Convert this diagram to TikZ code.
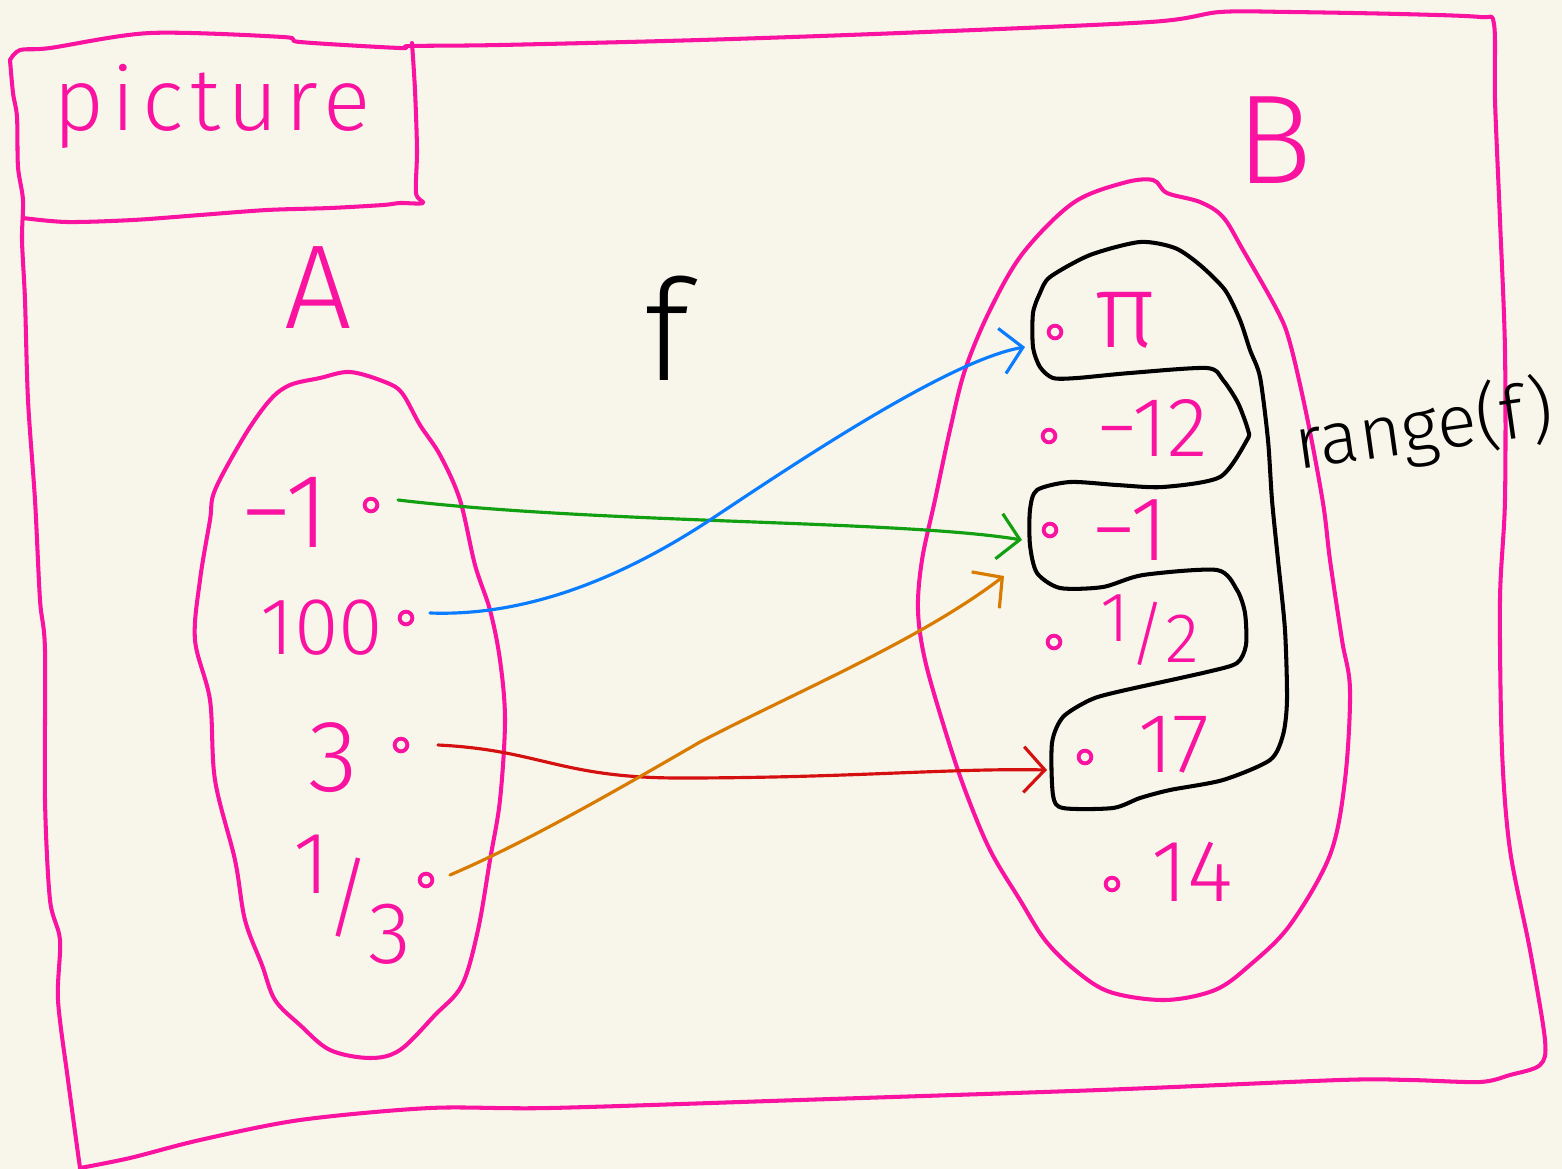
\documentclass[tikz,border=0pt]{standalone}
\usepackage{fontspec}
\setmainfont{Fira Sans}[UprightFont=* Light]
\usetikzlibrary{arrows.meta}
\definecolor{bg}{HTML}{F8F6EA}
\definecolor{pk}{HTML}{FA12A0}
\definecolor{ablue}{HTML}{0A7CFF}
\definecolor{agreen}{HTML}{12A012}
\definecolor{aorange}{HTML}{D87B00}
\definecolor{ared}{HTML}{D51010}
\newcommand{\fs}[1]{\fontsize{#1}{#1}\selectfont}
\tikzset{
  pkline/.style={draw=pk, line width=1.15pt, line cap=round, line join=round},
  blkline/.style={draw=black, line width=1.15pt, line cap=round, line join=round},
  pktext/.style={text=pk, inner sep=0pt},
  blktext/.style={text=black, inner sep=0pt},
  elem/.style={circle, draw=pk, line width=1.1pt, minimum size=3.6pt, inner sep=0pt},
  arr/.style={line width=0.9pt, line cap=round, -{Straight Barb[length=6pt,width=13pt,line width=0.9pt]}},
}
\begin{document}
\begin{tikzpicture}[x=0.01cm,y=-0.01cm]
\useasboundingbox (0,0) rectangle (1562,1169);
\fill[bg] (0,0) rectangle (1562,1169);

% outer frame: top, right, bottom
\draw[pkline] plot[smooth, tension=0.5] coordinates {
 (10,60) (20,50) (50,48) (150,33) (283,37) (300,42) (400,48) (410,46) (500,45)
 (700,40) (900,33) (1150,22) (1220,12) (1290,12) (1400,14) (1480,17) (1494,24)
 (1495,100) (1500,220) (1505,350) (1505,500) (1500,600) (1502,750) (1510,850)
 (1530,950) (1545,1040) (1540,1065) (1510,1075) (1480,1082) (1410,1080) (1340,1080)
 (1100,1090) (800,1100) (550,1108) (430,1108) (300,1120) (200,1140) (130,1158) (80,1168)};
% outer frame: left edge
\draw[pkline] plot[smooth, tension=0.5] coordinates {
 (10,60) (13,93) (17,117) (18,167) (23,200) (22,240) (25,300) (28,400) (35,500)
 (40,600) (45,650) (45,800) (50,900) (60,940) (58,1000) (68,1080) (80,1168)};
% picture box: right and bottom
\draw[pkline] plot[smooth, tension=0.5] coordinates {
 (412,43) (415,90) (417,150) (416,193) (423,203) (400,203) (383,205) (330,208)
 (267,210) (200,215) (133,220) (67,222) (23,218)};
\node[pktext, anchor=base] (title) at (212,130) {\fs{25pt}\addfontfeatures{LetterSpace=8}picture};

% set A
\draw[pkline] plot[smooth cycle, tension=0.55] coordinates {
 (320,378) (290,385) (270,400) (245,435) (215,490) (210,520) (200,580) (195,640)
 (210,700) (215,780) (235,860) (245,920) (262,965) (275,1000) (300,1025) (330,1050)
 (370,1058) (400,1050) (435,1015) (462,985) (478,930) (490,860) (500,800) (505,720)
 (500,660) (490,610) (475,565) (460,500) (440,455) (420,425) (402,393) (385,382) (350,372)};
\node[pktext] (labA) at (318,288) {\fs{34pt}A};

% set B
\draw[pkline] plot[smooth cycle, tension=0.55] coordinates {
 (1153,180) (1123,183) (1073,203) (1023,253) (990,310) (965,370) (950,430) (935,500)
 (922,560) (918,610) (925,660) (945,730) (965,790) (990,850) (1020,900) (1045,940)
 (1075,970) (1110,992) (1165,1000) (1215,990) (1250,965) (1290,925) (1330,855)
 (1345,780) (1350,690) (1342,640) (1330,560) (1323,503) (1307,417) (1290,343)
 (1277,310) (1243,250) (1223,217) (1200,202) (1167,193)};
\node[pktext] (labB) at (1274,140) {\fs{36pt}B};

% function name
\node[blktext] (labf) at (667,328) {\fs{40pt}f};

% range(f)
\draw[blkline] plot[smooth cycle, tension=0.45] coordinates {
 (1050,277) (1090,255) (1140,242) (1175,248) (1200,265) (1225,290) (1240,320)
 (1250,350) (1260,377) (1268,440) (1272,500) (1278,560) (1285,630) (1287,700)
 (1283,735) (1270,760) (1223,780) (1170,790) (1140,798) (1113,808) (1063,808)
 (1053,795) (1052,743) (1063,717) (1090,700) (1117,692) (1207,672) (1237,663)
 (1246,645) (1245,613) (1237,590) (1217,570) (1143,575) (1103,587) (1060,588)
 (1037,573) (1030,545) (1030,510) (1037,490) (1070,482) (1117,485) (1163,487)
 (1220,477) (1247,440) (1248,430) (1238,403) (1223,380) (1207,368) (1130,373)
 (1077,378) (1053,378) (1040,367) (1033,347) (1033,313) (1040,293)};
\node[blktext, rotate=8] (labR) at (1424,428) {\fs{21pt}range(f)};

% elements of A
\node[pktext] (a1) at (285,512) {\fs{30pt}−1};
\node[pktext] (a2) at (322,628) {\fs{23pt}100};
\node[pktext] (a3) at (333,758) {\fs{29pt}3};
\node[pktext] (a4) at (352,900) {\fs{25pt}\raisebox{0.4em}{1}\kern-0.04em/\kern-0.04em\raisebox{-0.4em}{3}};
\node[elem] (da1) at (371,505) {};
\node[elem] (da2) at (406,618) {};
\node[elem] (da3) at (401,745) {};
\node[elem] (da4) at (426,880) {};

% elements of B
\node[pktext] (b1) at (1125,320) {\fs{30pt}π};
\node[pktext] (b2) at (1152,428) {\fs{24pt}−12};
\node[pktext] (b3) at (1130,530) {\fs{26pt}−1};
\node[pktext] (b4) at (1150,630) {\fs{20pt}\raisebox{0.25em}{1}/\raisebox{-0.05em}{2}};
\node[pktext] (b5) at (1174,745) {\fs{24pt}17};
\node[pktext] (b6) at (1192,872) {\fs{25pt}14};
\node[elem] (db1) at (1055,332) {};
\node[elem] (db2) at (1049,436) {};
\node[elem] (db3) at (1050,530) {};
\node[elem] (db4) at (1054,642) {};
\node[elem] (db5) at (1085,757) {};
\node[elem] (db6) at (1112,884) {};

% arrow end points
\coordinate (s1) at (398,500);
\coordinate (s2) at (430,613);
\coordinate (s3) at (438,745);
\coordinate (s4) at (450,875);
\coordinate (e1) at (1022,540);
\coordinate (e2) at (1025,347);
\coordinate (e3) at (1047,770);
\coordinate (e4) at (1004,576);

\draw[arr, agreen] (s1) .. controls (600,524) and (900,520) .. (e1);
\draw[arr, ablue] (s2) .. controls (540,617) and (640,566) .. (710,520)
                       .. controls (800,460) and (950,360) .. (e2);
\draw[arr, ared] (s3) .. controls (540,750) and (560,778) .. (680,778)
                      .. controls (850,778) and (950,768) .. (e3);
\draw[arr, aorange] (s4) .. controls (520,845) and (600,800) .. (700,742)
                         .. controls (800,690) and (920,640) .. (e4);
\end{tikzpicture}
\end{document}
